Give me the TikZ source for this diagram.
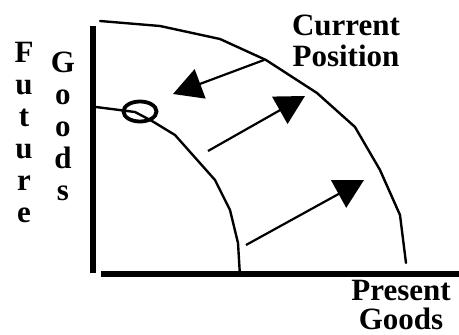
\documentclass[tikz,border=0pt]{standalone}
\usepackage{fontspec}
\setmainfont{Liberation Serif}
\usetikzlibrary{arrows.meta}
\tikzset{
  curve/.style={line width=2.4pt, line join=round, line cap=round},
  axis/.style={line width=6pt},
  bigarrow/.style={line width=2.2pt, -{Triangle[length=29pt,width=31pt]}},
  lbl/.style={inner sep=0pt, align=center, font=\fontsize{31}{31}\selectfont\bfseries},
  lblb/.style={inner sep=0pt, align=center, font=\fontsize{31}{29}\selectfont\bfseries},
  vlbl/.style={inner sep=0pt, align=center, font=\fontsize{31}{32}\selectfont\bfseries},
}
\begin{document}
\begin{tikzpicture}[x=1pt, y=-1pt]
\useasboundingbox (0,0) rectangle (459,335);
% axes
\draw[axis] (93,26) -- (93,273);
\draw[axis] (101,274) -- (459,274);
% outer curve
\draw[curve] (100,21) -- (160,26) -- (220,39) -- (266,60) -- (317,93) -- (355,127) -- (380,170) -- (400,215) -- (406,263);
% inner curve
\draw[curve] (96,107) -- (135,112) -- (152,121) -- (175,135) -- (215,180) -- (230,210) -- (238,243) -- (240,276);
% ring
\draw[line width=3.8pt] (140,111.5) ellipse [x radius=16.5, y radius=10];
% arrows
\coordinate (a1s) at (264,60);
\coordinate (a1e) at (173,94);
\coordinate (a2s) at (208,151);
\coordinate (a2e) at (305,96);
\coordinate (a3s) at (246,245);
\coordinate (a3e) at (364,180);
\draw[bigarrow] (a1s) -- (a1e);
\draw[bigarrow] (a2s) -- (a2e);
\draw[bigarrow] (a3s) -- (a3e);
% labels
\node[lbl, anchor=north] (cur) at (346,15) {Current\\Position};
\node[lblb, anchor=north] (pres) at (401,280) {Present\\Goods};
\node[vlbl, anchor=north] (fut) at (24,42) {F\\u\\t\\u\\r\\e};
\node[vlbl, anchor=north] (goods) at (63,52) {G\\o\\o\\d\\s};
\end{tikzpicture}
\end{document}
